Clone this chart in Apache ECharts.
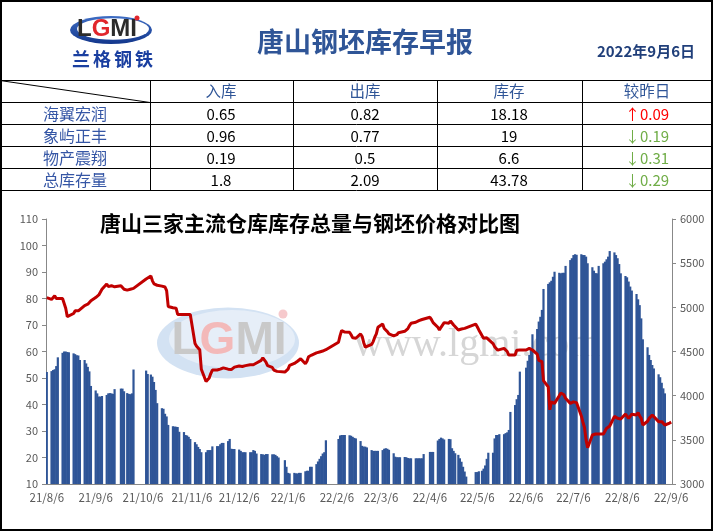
<!DOCTYPE html>
<html><head><meta charset="utf-8">
<script src="https://cdn.jsdelivr.net/npm/echarts@6/dist/echarts.min.js"></script>
<style>html,body{margin:0;padding:0;background:#fff}#c{width:713px;height:531px}</style>
</head><body><div id="c"></div>
<script>
// ---------- table data ----------
const rowNames = ['海翼宏润', '象屿正丰', '物产震翔', '总库存量'];
const colHeads = ['入库', '出库', '库存', '较昨日'];
const inflow = ['0.65', '0.96', '0.19', '1.8'];
const outflow = ['0.82', '0.77', '0.5', '2.09'];
const stockNow = ['18.18', '19', '6.6', '43.78'];
const change = ['↑0.09', '↓0.19', '↓0.31', '↓0.29'];
const changeUp = [true, false, false, false];
const reportTitle = '唐山钢坯库存早报';
const reportDate = '2022年9月6日';
const chartTitle = '唐山三家主流仓库库存总量与钢坯价格对比图';

// ---------- calendar ----------
const startDay = [2021, 8, 6];
const endDay = [2022, 9, 6];
const holidays = ['2021-09-20','2021-09-21','2021-10-01','2021-10-04','2021-10-05','2021-10-06','2021-10-07',
  '2022-01-03','2022-01-31','2022-02-01','2022-02-02','2022-02-03','2022-02-04',
  '2022-04-04','2022-04-05','2022-05-02','2022-05-03','2022-05-04','2022-06-03'];
const makeupDays = ['2021-09-18','2021-09-26','2021-10-09','2022-01-29','2022-01-30','2022-04-02','2022-04-24','2022-05-07'];

// ---------- series: one value per trading day (万吨) ----------
const stock = [
  52.3,
  52.6, 53.0, 53.3, 54.5, 57.8,
  59.5, 60.0, 60.0, 59.8, 59.7,
  59.3, 59.0, 58.6, 58.5, 56.8,
  56.8, 55.5, 54.2, 52.5, 47.0,
  45.3, 44.2, 43.0, 43.0, 43.2,
  43.6, 44.2, 44.3, 44.2, 44.0, 45.8,
  46.0, 46.0, 45.0,
  44.3, 44.0, 43.9, 44.2, 53.2,
  52.8, 51.5,
  51.3, 50.5, 48.5, 45.5, 40.5,
  38.6, 38.4, 36.5, 35.5, 32.3,
  31.8, 31.7, 31.6, 31.5, 29.7,
  29.6, 28.5, 28.3, 27.8, 27.0,
  25.8, 25.0, 24.0, 23.2, 22.0,
  22.0, 22.8, 22.8, 22.8, 24.2,
  24.3, 24.3, 25.0, 25.5, 25.5,
  26.2, 27.0, 23.3, 23.2, 23.2,
  23.0, 22.5, 22.0, 22.0, 22.0,
  22.0, 22.0, 22.8, 22.5, 21.5,
  21.3, 21.2, 21.0, 21.3, 21.3,
  21.2, 21.2, 21.0, 20.5, 20.0,
  19.0, 16.5, 14.2, 14.0,
  14.2, 14.0, 14.0, 14.2, 14.2,
  14.8, 15.0, 15.0, 16.5, 16.5,
  17.5, 18.5, 19.5, 20.5, 21.5, 22.0, 26.5,
  27.0, 28.3, 28.5, 28.5, 28.5,
  28.4, 28.2, 27.8, 27.4, 27.2,
  26.2, 24.4, 24.1, 24.1, 23.8,
  22.8, 22.5, 22.5, 22.5, 22.5,
  22.8, 23.3, 23.5, 23.3, 22.9,
  21.6, 20.3, 20.1, 20.1, 20.1,
  20.2, 20.1, 19.8, 19.7, 19.7,
  19.7, 19.7, 19.7, 19.7, 19.7, 21.3,
  22.1, 22.1, 22.1,
  26.4, 27.0, 27.5, 27.2, 26.8,
  27.0, 26.9, 23.5, 22.5, 21.6,
  21.0, 19.7, 18.4, 16.5, 14.7, 12.8,
  14.5, 14.5, 14.8,
  15.0, 15.8, 17.0, 19.5, 21.8,
  21.8, 27.2, 28.5, 28.5, 28.8,
  28.8, 29.2, 29.5, 30.4, 37.2,
  39.8, 42.0, 43.6, 52.4,
  53.9, 56.5, 58.7, 61.0, 66.5,
  68.5, 71.3, 73.1, 75.7, 83.6,
  85.5, 86.1, 86.7, 88.2, 90.1,
  89.7, 89.5, 89.7, 89.7, 92.3,
  94.5, 95.2, 96.4, 96.7, 96.5,
  96.7, 96.4, 96.4, 95.8, 93.3,
  91.8, 90.5, 89.6, 89.5, 92.3,
  93.3, 93.9, 94.8, 95.8, 97.9,
  97.4, 96.4, 95.2, 93.0, 89.5,
  88.5, 88.0, 86.4, 84.5, 83.0,
  81.7, 79.7, 77.5, 72.5, 64.6,
  61.6, 58.7, 56.8, 54.9, 53.6,
  51.4, 50.3, 48.2, 46.1, 44.2
];
// 钢坯价格 (元/吨), one value per trading day
const price = [
  5110,
  5090, 5090, 5130, 5100, 5100,
  5100, 5080, 4990, 4895, 4890,
  4930, 4960, 4960, 4960, 4975,
  5020, 5035, 5035, 5035, 5075,
  5110, 5128, 5140, 5160, 5205,
  5265, 5235, 5235, 5245, 5228, 5232,
  5245, 5253, 5205,
  5195, 5205, 5205, 5205, 5215,
  5320, 5340,
  5355, 5300, 5265, 5255, 5250,
  5240, 5235, 5230, 5190, 5010,
  4995, 4995, 4990, 4920, 4920,
  4920, 4920, 4920, 4920, 4920,
  4590, 4560, 4545, 4520, 4300,
  4160, 4170, 4200, 4250, 4290,
  4290, 4285, 4300, 4320, 4315,
  4300, 4290, 4295, 4310, 4323,
  4335, 4345, 4330, 4325, 4340,
  4350, 4361, 4350, 4342, 4370,
  4400, 4429, 4410, 4380, 4340,
  4320, 4290, 4286, 4275, 4270,
  4267, 4267, 4300, 4342,
  4365, 4380, 4390, 4400, 4418,
  4361, 4390, 4440, 4455, 4460,
  4485, 4490, 4495, 4500, 4505, 4510, 4520,
  4605, 4680, 4737, 4730, 4720,
  4718, 4690, 4655, 4643, 4650,
  4699, 4670, 4600, 4549, 4555,
  4580, 4612, 4662, 4700, 4774,
  4812, 4760, 4744, 4725, 4700,
  4676, 4660, 4690, 4713, 4710,
  4729, 4744, 4760, 4793, 4819,
  4831, 4845, 4849, 4855, 4862, 4869,
  4887, 4860, 4827,
  4774, 4744, 4774, 4793, 4827,
  4820, 4845, 4830, 4800, 4789,
  4744, 4750, 4755, 4760, 4762, 4770,
  4810, 4780, 4744,
  4680, 4650, 4638, 4655, 4668,
  4590, 4555, 4535, 4515, 4498,
  4536, 4548, 4500, 4460, 4460,
  4460, 4515, 4517, 4517,
  4517, 4525, 4536, 4525, 4517,
  4470, 4400, 4390, 4385, 4170,
  4100, 3840, 3930, 3920, 3913,
  4000, 4030, 4045, 4010, 3970,
  3913, 3920, 3930, 3930, 3921,
  3770, 3700, 3640, 3500, 3410,
  3555, 3566, 3566, 3566, 3566,
  3566, 3566, 3630, 3645, 3657,
  3765, 3770, 3745, 3725, 3735,
  3792, 3770, 3743, 3765, 3790,
  3781, 3808, 3770, 3743, 3668,
  3710, 3743, 3765, 3781, 3775,
  3706, 3706, 3706, 3690, 3668,
  3690, 3700
];

// ---------- build calendar categories ----------
function fmt(t) {
  const d = new Date(t);
  return d.getUTCFullYear() + '-' + String(d.getUTCMonth() + 1).padStart(2, '0') + '-' + String(d.getUTCDate()).padStart(2, '0');
}
const days = [], stockSeries = [], priceSeries = [];
let k = 0;
for (let t = Date.UTC(startDay[0], startDay[1] - 1, startDay[2]); t <= Date.UTC(endDay[0], endDay[1] - 1, endDay[2]); t += 86400000) {
  const s = fmt(t);
  const dow = new Date(t).getUTCDay();
  days.push(s);
  const trade = (dow >= 1 && dow <= 5 && holidays.indexOf(s) < 0) || makeupDays.indexOf(s) >= 0;
  if (trade) {
    stockSeries.push(k < stock.length ? stock[k] : null);
    priceSeries.push(k < price.length ? price[k] : null);
    k++;
  } else {
    stockSeries.push(null);
    priceSeries.push(null);
  }
}
const isMonthTick = (idx, val) => val.slice(8) === '06';

// ---------- graphic: header, table, watermark ----------
const FONT = "'Noto Sans CJK SC', 'Noto Sans', sans-serif";
const BLUE = '#2F5597';
const g = [];
function line(x1, y1, x2, y2, w) {
  g.push({ type: 'line', z: 20, shape: { x1, y1, x2, y2 }, style: { stroke: '#000', lineWidth: w || 1 } });
}
function text(t, x, y, opt) {
  g.push({ type: 'text', z: 21, style: Object.assign({ text: t, x, y, fill: '#000', fontSize: 15, fontFamily: FONT, align: 'center', verticalAlign: 'middle' }, opt || {}) });
}
// outer border
g.push({ type: 'rect', z: 20, shape: { x: 1, y: 1, width: 711, height: 529 }, style: { fill: 'none', stroke: '#000', lineWidth: 2 } });
// table lines
[80.5, 102.5, 124.5, 146.5, 168.5, 190.5].forEach(y => line(0, y, 713, y, 1));
[150.5, 293.5, 437.5, 582.5].forEach(x => line(x, 80, x, 190, 1));
line(0, 80.5, 150, 102.5, 1);
// header texts
text(reportTitle, 365, 42, { fontSize: 27, fontWeight: 'bold', fill: BLUE });
text(reportDate, 695, 51, { fontSize: 15, fontWeight: 'bold', fill: '#203F7A', align: 'right' });
// logo
g.push({ type: 'circle', z: 20, x: 111, y: 30, scaleY: 0.34, shape: { cx: 0, cy: 0, r: 41 },
  style: { fill: new echarts.graphic.LinearGradient(0, 0, 0, 1, [{ offset: 0, color: '#3E6DC4' }, { offset: 1, color: '#13378C' }]) } });
g.push({ type: 'circle', z: 20, x: 113, y: 29, scaleY: 0.30, shape: { cx: 0, cy: 0, r: 36 }, style: { fill: '#fff' } });
g.push({ type: 'text', z: 21, style: { x: 107, y: 29, text: '{a|L}{b|G}{a|MI}', align: 'center', verticalAlign: 'middle',
  rich: { a: { fontSize: 24, fontWeight: 'bold', fontFamily: 'Liberation Sans', fill: '#2B2B2B' }, b: { fontSize: 24, fontWeight: 'bold', fontFamily: 'Liberation Sans', fill: '#E1262C' } } } });
g.push({ type: 'circle', z: 21, shape: { cx: 137, cy: 18, r: 2.5 }, style: { fill: '#E1262C' } });
'兰格钢铁'.split('').forEach((ch, i) => text(ch, 81 + i * 21, 59, { fontSize: 18, fontWeight: 'bold', fill: '#1A3FA0' }));
// table header and rows
const colX = [75, 221, 365, 509, 647];
colHeads.forEach((h, i) => text(h, colX[i + 1], 91, { fontSize: 15.5, fill: BLUE }));
rowNames.forEach((n, r) => {
  const y = 114 + r * 22;
  text(n, colX[0], y, { fontSize: 16, fill: '#3556A5' });
  text(inflow[r], colX[1], y);
  text(outflow[r], colX[2], y);
  text(stockNow[r], colX[3], y);
  text(change[r], colX[4], y, { fill: changeUp[r] ? '#FF0000' : '#70AD47' });
});
// chart title
text(chartTitle, 100, 223, { fontSize: 21, fontWeight: 'bold', fill: '#000', align: 'left', fontFamily: "'Noto Sans CJK SC', serif" });
// watermark
g.push({ type: 'circle', z: 0, x: 228, y: 343, scaleY: 0.5, shape: { cx: 0, cy: 0, r: 71 }, style: { fill: '#D3E2F3' } });
g.push({ type: 'circle', z: 0, x: 232, y: 339, scaleY: 0.46, shape: { cx: 0, cy: 0, r: 63 }, style: { fill: '#E6EEF8' } });
g.push({ type: 'text', z: 0, style: { x: 229, y: 341, text: '{a|L}{b|G}{a|MI}', align: 'center', verticalAlign: 'middle',
  rich: { a: { fontSize: 46, fontWeight: 'bold', fontFamily: 'Liberation Sans', fill: '#C9C9C9' }, b: { fontSize: 46, fontWeight: 'bold', fontFamily: 'Liberation Sans', fill: '#F3B9B9' } } } });
g.push({ type: 'circle', z: 0, shape: { cx: 283, cy: 314, r: 4.5 }, style: { fill: '#F6C9CC' } });
g.push({ type: 'text', z: 0, style: { x: 354, y: 345, text: 'www.lgmi.com', fontSize: 40, fontFamily: "'Liberation Serif', serif", fill: '#D6D6D6', align: 'left', verticalAlign: 'middle' } });

const axisColor = '#888888';
const labelStyle = { color: '#595959', fontSize: 11, fontFamily: FONT };
const chart = echarts.init(document.getElementById('c'));
chart.setOption({
  backgroundColor: '#fff',
  animation: false,
  grid: { left: 46, right: 41, top: 219, bottom: 47, containLabel: false, outerBoundsMode: 'none' },
  xAxis: {
    type: 'category', data: days, boundaryGap: true,
    axisLine: { lineStyle: { color: axisColor } },
    axisTick: { alignWithLabel: true, interval: isMonthTick, length: 4, lineStyle: { color: axisColor } },
    axisLabel: Object.assign({}, labelStyle, { fontSize: 11.5, interval: isMonthTick, margin: 8, hideOverlap: false,
      formatter: v => v.slice(2, 4) + '/' + (+v.slice(5, 7)) + '/' + (+v.slice(8)) }),
    splitLine: { show: false }
  },
  yAxis: [
    { type: 'value', min: 10, max: 110, interval: 10, position: 'left',
      axisLine: { show: true, lineStyle: { color: axisColor } },
      axisTick: { show: true, length: 4, lineStyle: { color: axisColor } },
      axisLabel: Object.assign({}, labelStyle, { margin: 8, formatter: v => String(v) }), splitLine: { show: false } },
    { type: 'value', min: 3000, max: 6000, interval: 500, position: 'right',
      axisLine: { show: true, lineStyle: { color: axisColor } },
      axisTick: { show: true, length: 4, lineStyle: { color: axisColor } },
      axisLabel: Object.assign({}, labelStyle, { margin: 8, formatter: v => String(v) }), splitLine: { show: false } }
  ],
  series: [
    { name: '库存总量', type: 'bar', yAxisIndex: 0, data: stockSeries, barWidth: 2.2, barGap: '-100%',
      itemStyle: { color: '#2F5597' }, z: 2 },
    { name: '钢坯价格', type: 'line', yAxisIndex: 1, data: priceSeries, connectNulls: true, showSymbol: false, symbol: 'none',
      lineStyle: { color: '#C00000', width: 3 }, z: 5 }
  ],
  graphic: g
});
</script>
</body></html>
